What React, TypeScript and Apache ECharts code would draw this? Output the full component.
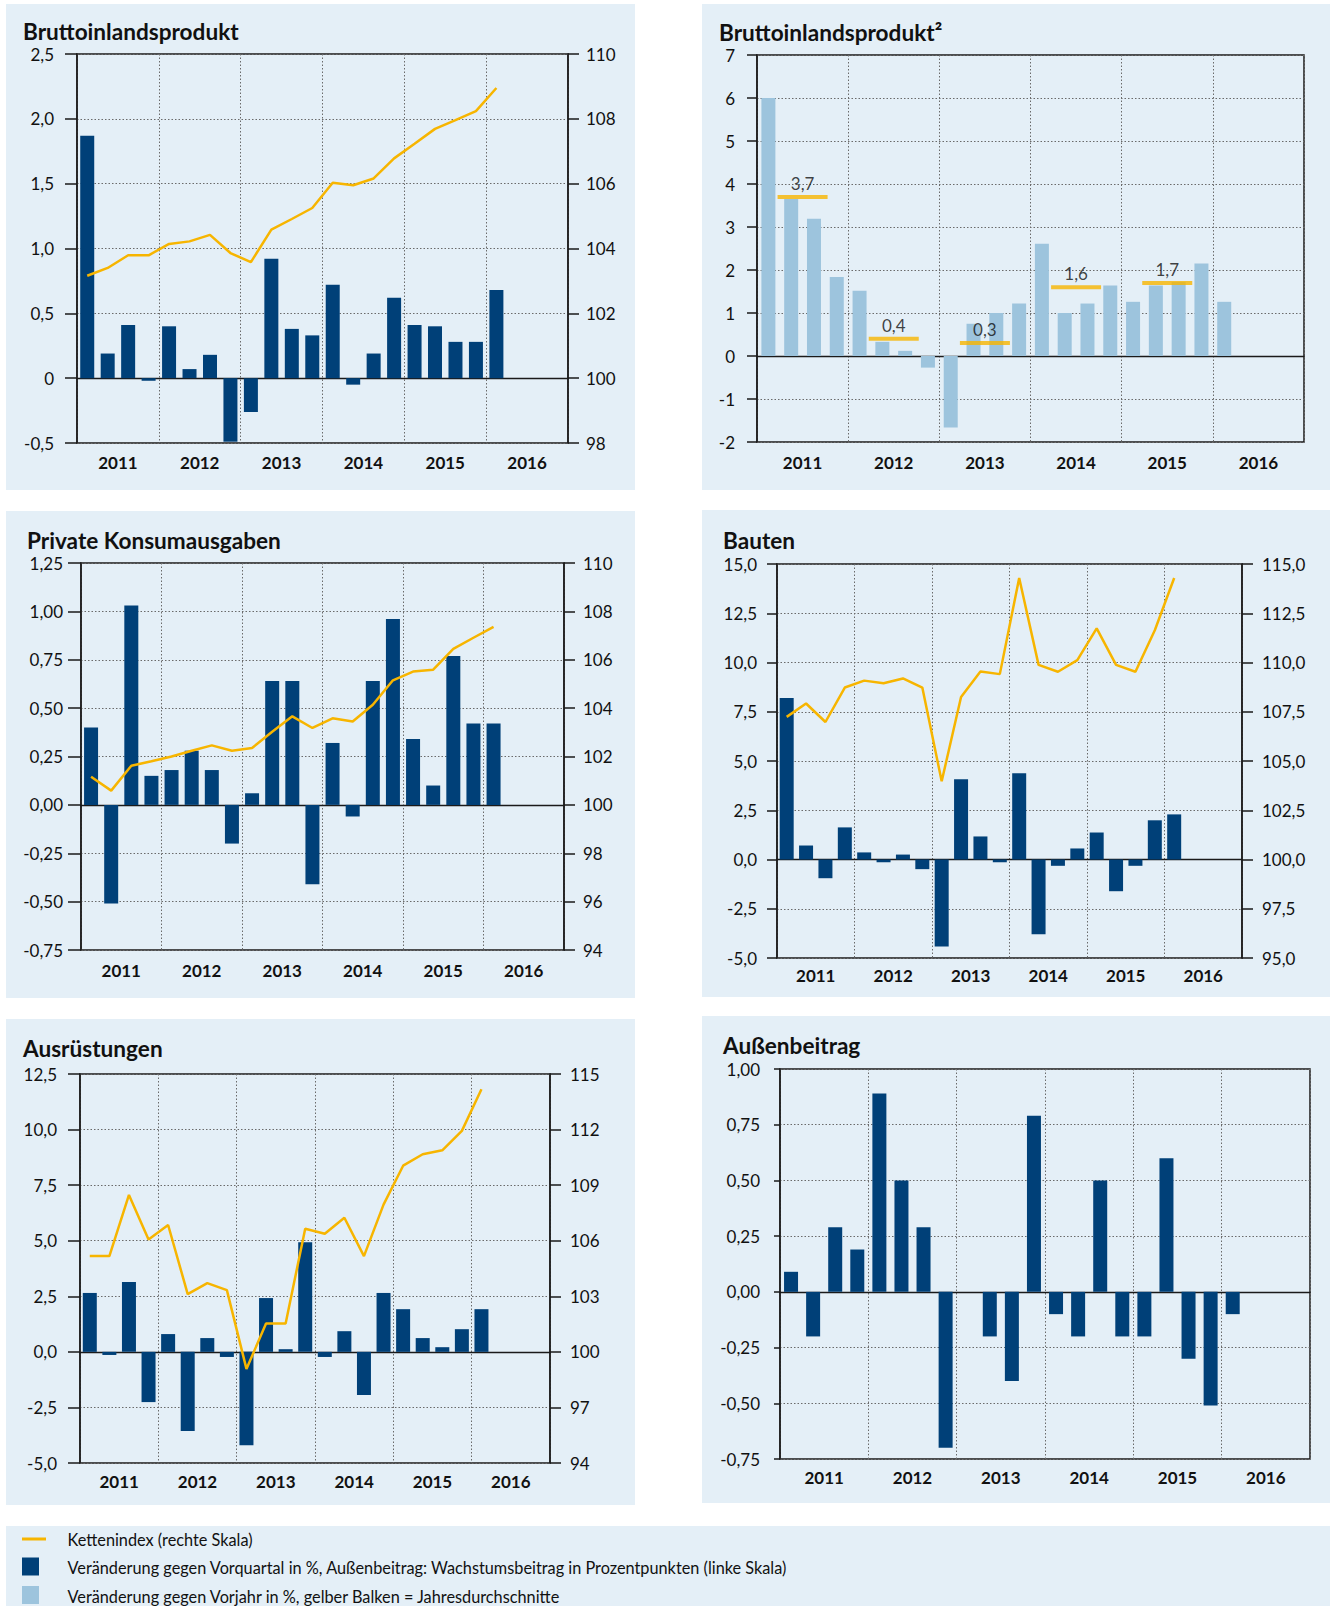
import React, { useEffect, useRef } from 'react';
import * as echarts from 'echarts';

// ---------- data ----------
const quarters = [
  '2011 Q1', '2011 Q2', '2011 Q3', '2011 Q4',
  '2012 Q1', '2012 Q2', '2012 Q3', '2012 Q4',
  '2013 Q1', '2013 Q2', '2013 Q3', '2013 Q4',
  '2014 Q1', '2014 Q2', '2014 Q3', '2014 Q4',
  '2015 Q1', '2015 Q2', '2015 Q3', '2015 Q4',
  '2016 Q1', '2016 Q2', '2016 Q3', '2016 Q4',
];
const years = ['2011', '2012', '2013', '2014', '2015', '2016'];

const bipQoQ = [1.87, 0.19, 0.41, -0.02, 0.40, 0.07, 0.18, -0.49, -0.26, 0.92, 0.38, 0.33, 0.72, -0.05, 0.19, 0.62, 0.41, 0.40, 0.28, 0.28, 0.68];
const bipIndex = [103.16, 103.40, 103.79, 103.79, 104.14, 104.22, 104.42, 103.86, 103.58, 104.58, 104.91, 105.25, 106.03, 105.95, 106.16, 106.78, 107.23, 107.69, 107.96, 108.24, 108.95];

const bipYoY = [6.0, 3.65, 3.19, 1.84, 1.52, 0.33, 0.12, -0.27, -1.66, 0.75, 1.0, 1.22, 2.61, 1.0, 1.22, 1.64, 1.26, 1.64, 1.72, 2.15, 1.26];
const bipAnnualAvg = [3.7, 0.4, 0.3, 1.6, 1.7];

const konsumQoQ = [0.40, -0.51, 1.03, 0.15, 0.18, 0.28, 0.18, -0.20, 0.06, 0.64, 0.64, -0.41, 0.32, -0.06, 0.64, 0.96, 0.34, 0.10, 0.77, 0.42, 0.42];
const konsumIndex = [101.16, 100.59, 101.62, 101.80, 102.00, 102.24, 102.46, 102.24, 102.35, 103.02, 103.66, 103.18, 103.58, 103.45, 104.14, 105.15, 105.51, 105.59, 106.45, 106.91, 107.36];

const bautenQoQ = [8.2, 0.71, -0.95, 1.63, 0.36, -0.14, 0.25, -0.49, -4.41, 4.07, 1.17, -0.14, 4.38, -3.80, -0.32, 0.56, 1.37, -1.61, -0.32, 1.99, 2.29];
const bautenIndex = [107.24, 107.92, 106.98, 108.73, 109.08, 108.95, 109.19, 108.73, 103.97, 108.25, 109.54, 109.41, 114.29, 109.88, 109.53, 110.12, 111.73, 109.88, 109.53, 111.64, 114.29];

const ausrQoQ = [2.65, -0.14, 3.14, -2.26, 0.80, -3.56, 0.62, -0.23, -4.20, 2.42, 0.12, 4.93, -0.23, 0.93, -1.94, 2.65, 1.92, 0.62, 0.21, 1.02, 1.92];
const ausrIndex = [105.17, 105.17, 108.47, 106.07, 106.85, 103.12, 103.71, 103.33, 99.08, 101.53, 101.53, 106.65, 106.38, 107.24, 105.17, 107.95, 110.05, 110.67, 110.88, 111.93, 114.18];
const ausrRightTicks = [94, 97, 100, 103, 106, 109, 112, 115];

const aussenbeitrag = [0.09, -0.20, 0.29, 0.19, 0.89, 0.50, 0.29, -0.70, 0, -0.20, -0.40, 0.79, -0.10, -0.20, 0.50, -0.20, -0.20, 0.60, -0.30, -0.51, -0.10];

// ---------- style ----------
const FONT = 'Lato, "Open Sans", sans-serif';
const C_DARK = '#004078';
const C_LIGHT = '#9DC4DD';
const C_YELLOW = '#F7B500';
const C_BG = '#E4EFF7';
const C_TEXT = '#111111';
const C_AXIS = '#1a1a1a';
const C_GRID = '#6a6a6a';

const NAME_LINE = 'Kettenindex (rechte Skala)';
const NAME_DARK = 'Veränderung gegen Vorquartal in %, Außenbeitrag: Wachstumsbeitrag in Prozentpunkten (linke Skala)';
const NAME_LIGHT = 'Veränderung gegen Vorjahr in %, gelber Balken = Jahresdurchschnitte';

const de = (dec: number) => (v: number) => Number(v).toFixed(dec).replace('.', ',');
const deZero = (dec: number) => (v: number) => (v === 0 ? '0' : de(dec)(v));

type Panel = {
  title: string;
  bg: [number, number, number, number];
  titlePos: [number, number];
  g: [number, number, number, number]; // left, top, right, bottom
  bars: number[];
  barColor: string;
  barName: string;
  left: { min: number; max: number; interval: number; fmt: (v: number) => string; margin: number; tick: number };
  right?: { min: number; max: number; interval?: number; custom?: number[]; fmt: (v: number) => string; margin: number };
  line?: number[];
  avg?: number[];
  yearMargin: number;
};

const panels: Panel[] = [
  {
    title: 'Bruttoinlandsprodukt',
    bg: [6, 4, 629, 486], titlePos: [23, 31], g: [77, 54, 568, 443],
    bars: bipQoQ, barColor: C_DARK, barName: NAME_DARK,
    left: { min: -0.5, max: 2.5, interval: 0.5, fmt: deZero(1), margin: 23, tick: 12 },
    right: { min: 98, max: 110, interval: 2, fmt: de(0), margin: 18 },
    line: bipIndex, yearMargin: 11,
  },
  {
    title: 'Bruttoinlandsprodukt²',
    bg: [702, 4, 628, 486], titlePos: [719, 32], g: [757, 55, 1304, 442],
    bars: bipYoY, barColor: C_LIGHT, barName: NAME_LIGHT,
    left: { min: -2, max: 7, interval: 1, fmt: de(0), margin: 22, tick: 10 },
    avg: bipAnnualAvg, yearMargin: 12,
  },
  {
    title: 'Private Konsumausgaben',
    bg: [6, 511, 629, 487], titlePos: [27, 540], g: [81, 563, 564, 950],
    bars: konsumQoQ, barColor: C_DARK, barName: NAME_DARK,
    left: { min: -0.75, max: 1.25, interval: 0.25, fmt: de(2), margin: 18, tick: 13 },
    right: { min: 94, max: 110, interval: 2, fmt: de(0), margin: 19 },
    line: konsumIndex, yearMargin: 12,
  },
  {
    title: 'Bauten',
    bg: [702, 510, 628, 487], titlePos: [723, 540], g: [777, 564, 1242, 958],
    bars: bautenQoQ, barColor: C_DARK, barName: NAME_DARK,
    left: { min: -5, max: 15, interval: 2.5, fmt: de(1), margin: 20, tick: 10 },
    right: { min: 95, max: 115, interval: 2.5, fmt: de(1), margin: 20 },
    line: bautenIndex, yearMargin: 9,
  },
  {
    title: 'Ausrüstungen',
    bg: [6, 1019, 629, 486], titlePos: [23, 1048], g: [80, 1074, 550, 1463],
    bars: ausrQoQ, barColor: C_DARK, barName: NAME_DARK,
    left: { min: -5, max: 12.5, interval: 2.5, fmt: de(1), margin: 23, tick: 12 },
    right: { min: 94, max: 115, custom: ausrRightTicks, fmt: de(0), margin: 20 },
    line: ausrIndex, yearMargin: 10,
  },
  {
    title: 'Außenbeitrag',
    bg: [702, 1016, 628, 487], titlePos: [723, 1045], g: [780, 1069, 1310, 1459],
    bars: aussenbeitrag, barColor: C_DARK, barName: NAME_DARK,
    left: { min: -0.75, max: 1.0, interval: 0.25, fmt: de(2), margin: 20, tick: 6 },
    yearMargin: 10,
  },
];

function buildOption() {
  const grid: any[] = [];
  const xAxis: any[] = [];
  const yAxis: any[] = [];
  const series: any[] = [];
  const elements: any[] = [];

  const labelStyle = { fontSize: 17, color: C_TEXT, fontFamily: FONT };
  const axisLine = { show: true, lineStyle: { color: C_AXIS, width: 1.5 } };
  const dotted = { show: true, lineStyle: { color: C_GRID, width: 1, type: [1.5, 2] } };

  panels.forEach((p, gi) => {
    elements.push({
      type: 'rect', z: -100, silent: true,
      shape: { x: p.bg[0], y: p.bg[1], width: p.bg[2], height: p.bg[3] },
      style: { fill: C_BG },
    });
    elements.push({
      type: 'text', x: p.titlePos[0], y: p.titlePos[1],
      style: { text: p.title, fontSize: 22.6, fontWeight: 'bold', fontFamily: FONT, fill: C_TEXT, verticalAlign: 'middle' },
    });

    grid.push({
      left: p.g[0], top: p.g[1], width: p.g[2] - p.g[0], height: p.g[3] - p.g[1],
      show: true, borderColor: C_AXIS, borderWidth: 1.5, backgroundColor: 'transparent',
    });

    const qx = xAxis.length;
    xAxis.push({
      type: 'category', gridIndex: gi, data: quarters, position: 'bottom', boundaryGap: true,
      axisLine: { show: true, onZero: true, lineStyle: { color: C_AXIS, width: 1.3 } },
      axisTick: { show: false }, axisLabel: { show: false }, splitLine: { show: false },
    });
    const yx = xAxis.length;
    xAxis.push({
      type: 'category', gridIndex: gi, data: years, position: 'bottom', boundaryGap: true,
      axisLine: { show: false, onZero: false }, axisTick: { show: false },
      axisLabel: { ...labelStyle, fontWeight: 'bold', margin: p.yearMargin },
      splitLine: dotted,
    });

    const ly = yAxis.length;
    yAxis.push({
      type: 'value', gridIndex: gi, position: 'left',
      min: p.left.min, max: p.left.max, interval: p.left.interval,
      axisLine, axisTick: { show: true, length: p.left.tick, lineStyle: { color: C_AXIS, width: 1.5 } },
      axisLabel: { ...labelStyle, margin: p.left.margin, formatter: p.left.fmt },
      splitLine: dotted,
    });

    let ry = -1;
    if (p.right) {
      ry = yAxis.length;
      const r = p.right;
      const ax: any = {
        type: 'value', gridIndex: gi, position: 'right', min: r.min, max: r.max,
        axisLine, axisTick: { show: true, length: 11, lineStyle: { color: C_AXIS, width: 1.5 } },
        axisLabel: { ...labelStyle, margin: r.margin, formatter: r.fmt },
        splitLine: { show: false },
      };
      if (r.interval) ax.interval = r.interval;
      if (r.custom) {
        ax.axisLabel.customValues = r.custom;
        ax.axisTick.customValues = r.custom;
      }
      yAxis.push(ax);
    }

    series.push({
      type: 'bar', name: p.barName, xAxisIndex: qx, yAxisIndex: ly,
      data: p.bars, barWidth: 14, itemStyle: { color: p.barColor }, z: 2,
    });
    if (p.line && ry >= 0) {
      series.push({
        type: 'line', name: NAME_LINE, xAxisIndex: qx, yAxisIndex: ry,
        data: p.line, symbol: 'none', lineStyle: { color: C_YELLOW, width: 2.5 }, z: 4,
      });
    }
    if (p.avg) {
      series.push({
        type: 'scatter', name: 'Jahresdurchschnitt', xAxisIndex: yx, yAxisIndex: ly,
        data: p.avg, symbol: 'rect', symbolSize: [50, 4], itemStyle: { color: C_YELLOW }, z: 5,
        label: { show: true, position: 'top', distance: 3, formatter: (q: any) => de(1)(q.value), ...labelStyle },
      });
    }
  });

  // legend block
  elements.push({ type: 'rect', z: -100, silent: true, shape: { x: 6, y: 1526, width: 1324, height: 80 }, style: { fill: C_BG } });
  elements.push({ type: 'rect', shape: { x: 22, y: 1537.5, width: 24, height: 3 }, style: { fill: C_YELLOW } });
  elements.push({ type: 'rect', shape: { x: 22, y: 1557.5, width: 17, height: 18 }, style: { fill: C_DARK } });
  elements.push({ type: 'rect', shape: { x: 22, y: 1586, width: 17, height: 18 }, style: { fill: C_LIGHT } });
  [[NAME_LINE, 1539], [NAME_DARK, 1567], [NAME_LIGHT, 1596]].forEach(([t, y]) => {
    elements.push({
      type: 'text', x: 67.5, y: y as number,
      style: { text: t as string, fontSize: 16.3, fontFamily: FONT, fill: C_TEXT, verticalAlign: 'middle' },
    });
  });

  return {
    animation: false,
    backgroundColor: '#ffffff',
    textStyle: { fontFamily: FONT },
    grid, xAxis, yAxis, series,
    graphic: { elements },
  };
}

export default function App() {
  const ref = useRef<HTMLDivElement>(null);
  useEffect(() => {
    const chart = echarts.init(ref.current as HTMLDivElement, null, { renderer: 'svg' });
    chart.setOption(buildOption() as any);
    return () => chart.dispose();
  }, []);
  return <div ref={ref} style={{ position: 'absolute', left: 0, top: 0, width: 1337, height: 1606 }} />;
}
